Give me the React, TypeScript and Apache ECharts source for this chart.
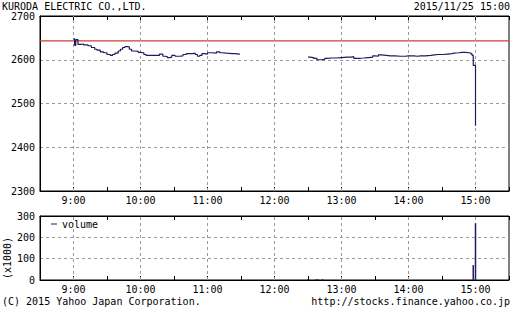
import React, { useEffect, useRef } from 'react';
import * as echarts from 'echarts';

const titleText = 'KURODA ELECTRIC CO.,LTD.';
const stampText = '2015/11/25 15:00';
const copyrightText = '(C) 2015 Yahoo Japan Corporation.';
const urlText = 'http://stocks.finance.yahoo.co.jp';
const volumeUnit = '(x1000)';

// minutes after 9:00
const axisMin = -30;
const axisMax = 390;
const hourTicks = [0, 60, 120, 180, 240, 300, 360];
const hourLabels = ['9:00', '10:00', '11:00', '12:00', '13:00', '14:00', '15:00'];
const previousClose = 2643;

const priceTimes = [
  0, 1, 2, 3, 4, 6, 9, 13, 16, 19, 21, 24, 27, 30, 33, 35, 37, 40, 42, 44, 46, 49, 50, 52, 55, 58,
  60, 63, 65, 70, 74, 77, 80, 82, 84, 86, 88, 91, 95, 98, 101, 104, 107, 109, 111, 113, 115, 117,
  120, 124, 128, 131, 133, 137, 142, 145, 148, 149,
  210, 212, 215, 218, 222, 225, 228, 231, 235, 240, 245, 249, 251, 255, 260, 264, 268, 270, 273,
  276, 280, 284, 288, 293, 297, 300, 305, 308, 311, 315, 320, 323, 327, 331, 335, 339, 341, 345,
  348, 351, 354, 356, 357, 358, 360,
];
const priceValues: (number | null)[] = [
  2648, 2633, 2646, 2646, 2635, 2636, 2634, 2632, 2628, 2624, 2622, 2618, 2616, 2612, 2610, 2612,
  2615, 2620, 2624, 2628, 2630, 2629, 2624, 2620, 2619, 2617,
  2616, 2612, 2610, 2610, 2610, 2613, 2608, 2607, 2605, 2606, 2610, 2608, 2609, 2612, 2614, 2614,
  2615, 2612, 2608, 2610, 2614, 2613,
  2616, 2615, 2618, 2616, 2615, 2614, 2614, 2613, 2613, null,
  2606, 2605, 2603, 2600, 2601, 2603, 2604, 2604, 2605, 2606, 2606, 2607, 2603, 2604, 2605, 2606,
  2609, 2608, 2611, 2610, 2609, 2609, 2608, 2608, 2609, 2609, 2608, 2609, 2609, 2610, 2611, 2612,
  2612, 2613, 2614, 2615, 2616, 2617, 2617, 2616, 2615, 2613, 2610, 2587, 2449,
];

const volumeTimes = [210, 217, 219, 223, 358, 360];
const volumeValues = [4, 3, 3, 4, 70, 266];

const FONT = '"DejaVu Sans Mono", monospace';
const NAVY = '#1c1c5e';
const RED = '#d23c3c';
const GRID_LINE = { color: '#9a9a9a', type: [3, 3] as number[], width: 1 };

export default function App() {
  const ref = useRef<HTMLDivElement>(null);

  useEffect(() => {
    document.body.style.margin = '0';
    if (!ref.current) return;
    const chart = echarts.init(ref.current, null, { renderer: 'svg' });

    const priceData = priceTimes.map((t, i) => [t, priceValues[i] === null ? '-' : priceValues[i]]);
    const volumeData = volumeTimes.map((t, i) => [t, volumeValues[i]]);
    const closeData = [
      [axisMin, previousClose],
      [axisMax, previousClose],
    ];
    const hourFormatter = (v: number) => {
      const i = hourTicks.indexOf(v);
      return i >= 0 ? hourLabels[i] : '';
    };

    const xBase = (gridIndex: number, position: 'bottom' | 'top', labels: boolean) => ({
      type: 'value',
      gridIndex,
      position,
      min: axisMin,
      max: axisMax,
      interval: 30,
      axisLine: { show: true, onZero: false, lineStyle: { color: '#000', width: 1 } },
      axisTick: { show: true, inside: true, length: 4, lineStyle: { color: '#000' } },
      axisLabel: {
        show: labels,
        formatter: hourFormatter,
        fontFamily: FONT,
        fontSize: 10,
        color: '#000',
        margin: 4,
        showMinLabel: true,
        showMaxLabel: true,
      },
      splitLine: { show: false },
    });

    const yBase = (gridIndex: number, min: number, max: number) => ({
      type: 'value',
      gridIndex,
      min,
      max,
      interval: 100,
      axisLine: { show: true, onZero: false, lineStyle: { color: '#000' } },
      axisTick: { show: false },
      axisLabel: {
        fontFamily: FONT,
        fontSize: 10,
        color: '#000',
        margin: 5,
        formatter: (v: number) => String(v),
      },
      splitLine: { show: true, lineStyle: GRID_LINE },
    });

    const hourMarks = {
      silent: true,
      symbol: 'none',
      label: { show: false },
      lineStyle: GRID_LINE,
      data: hourTicks.map((h) => ({ xAxis: h })),
    };

    chart.setOption({
      animation: false,
      backgroundColor: '#fff',
      grid: [
        { left: 40, right: 1, top: 16, height: 175, show: true, borderColor: '#000', borderWidth: 1 },
        { left: 40, right: 1, top: 216, height: 64, show: true, borderColor: '#000', borderWidth: 1 },
      ],
      xAxis: [
        xBase(0, 'bottom', true),
        xBase(0, 'top', false),
        xBase(1, 'bottom', true),
        xBase(1, 'top', false),
      ],
      yAxis: [yBase(0, 2300, 2700), yBase(1, 0, 300)],
      legend: {
        data: ['volume'],
        left: 51,
        top: 219,
        padding: 0,
        icon: 'rect',
        itemWidth: 6,
        itemHeight: 1,
        textStyle: { fontFamily: FONT, fontSize: 10, color: '#000' },
      },
      series: [
        {
          name: 'grid0',
          type: 'line',
          xAxisIndex: 0,
          yAxisIndex: 0,
          data: [],
          z: 1,
          markLine: hourMarks,
        },
        {
          name: 'grid1',
          type: 'line',
          xAxisIndex: 2,
          yAxisIndex: 1,
          data: [],
          z: 1,
          markLine: hourMarks,
        },
        {
          name: 'close',
          type: 'line',
          xAxisIndex: 0,
          yAxisIndex: 0,
          data: closeData,
          showSymbol: false,
          silent: true,
          z: 3,
          lineStyle: { color: RED, width: 1.2 },
          itemStyle: { color: RED },
        },
        {
          name: 'price',
          type: 'line',
          xAxisIndex: 0,
          yAxisIndex: 0,
          data: priceData,
          step: 'end',
          showSymbol: false,
          connectNulls: false,
          z: 5,
          lineStyle: { color: NAVY, width: 1.2 },
          itemStyle: { color: NAVY },
        },
        {
          name: 'volume',
          type: 'bar',
          xAxisIndex: 2,
          yAxisIndex: 1,
          data: volumeData,
          barWidth: 1.5,
          z: 5,
          itemStyle: { color: NAVY },
        },
      ],
      graphic: [
        { type: 'text', left: 2, top: 1, style: { text: titleText, font: `10px ${FONT}`, fill: '#000' } },
        { type: 'text', right: 2, top: 1, style: { text: stampText, font: `10px ${FONT}`, fill: '#000' } },
        { type: 'text', left: 2, top: 296, style: { text: copyrightText, font: `10px ${FONT}`, fill: '#000' } },
        { type: 'text', right: 2, top: 296, style: { text: urlText, font: `10px ${FONT}`, fill: '#000' } },
        {
          type: 'text',
          x: 7,
          y: 258,
          rotation: Math.PI / 2,
          style: {
            text: volumeUnit,
            font: `10px ${FONT}`,
            fill: '#000',
            align: 'center',
            verticalAlign: 'middle',
          },
        },
      ],
    });

    return () => chart.dispose();
  }, []);

  return <div ref={ref} style={{ width: 512, height: 310 }} />;
}
